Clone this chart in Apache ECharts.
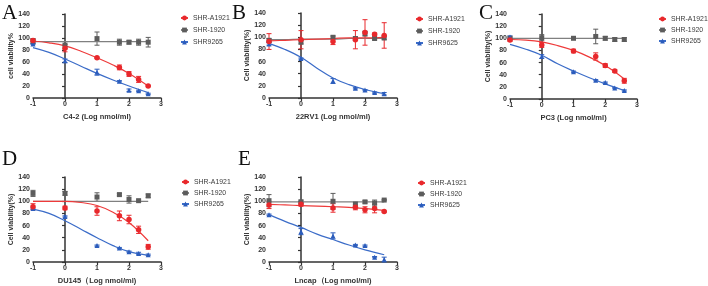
<!DOCTYPE html>
<html>
<head>
<meta charset="utf-8">
<script src="https://cdn.jsdelivr.net/npm/echarts@6/dist/echarts.min.js"></script>
<style>
html,body{margin:0;padding:0;background:#fff;}
#main{width:708px;height:286px;}
</style>
</head>
<body>
<div id="main"></div>
<script>
// doses (log nmol/ml) of the measured points and of the read fitted curve
var doses = [-1, 0, 1, 1.7, 2, 2.3, 2.6];
var fitX = [-1, -0.5, 0, 0.5, 1, 1.5, 2, 2.6];
var xTicks = [-1, 0, 1, 2, 3];
var yTicks = [0, 20, 40, 60, 80, 100, 120, 140];

// A  C4-2
var aRed = [96, 83, 67, 51, 40, 31, 20];
var aRedErr = [2, 6, 1, 4, 4, 5, 1];
var aRedFit = [95, 92, 87, 78, 67, 55, 41, 20];
var aGray = [95, 88, 99, 93, 93, 93, 93];
var aGrayErr = [4, 6, 11, 5, 3, 5, 8];
var aGrayFit = [94, 94, 94, 94, 94, 94, 94, 94];
var aBlue = [90, 62, 43, 28, 13, 12, 7];
var aBlueErr = [1, 3, 5, 1, 2, 1, 1];
var aBlueFit = [84, 76, 65, 53, 41, 30, 20, 9];

// B  22RV1
var bRed = [93, 96, 93, 96, 108, 105, 103];
var bRedErr = [13, 15, 5, 15, 21, 2, 21];
var bRedFit = [94, 95, 96, 97, 98, 99, 99, 100];
var bGray = [95, 92, 100, 98, 106, 98, 99];
var bGrayErr = [3, 3, 2, 3, 4, 2, 3];
var bGrayFit = [96, 96, 97, 97, 97, 98, 98, 98];
var bBlue = [89, 65, 28, 16, 13, 9, 7];
var bBlueErr = [2, 1, 4, 1, 1, 1, 2];
var bBlueFit = [90, 80, 67, 49, 33, 22, 14, 7];

// C  PC3
var cRed = [97, 89, 79, 70, 55, 46, 30];
var cRedErr = [2, 4, 3, 6, 3, 2, 4];
var cRedFit = [98, 97, 94, 88, 80, 69, 55, 33];
var cGray = [100, 101, 100, 103, 100, 98, 98];
var cGrayErr = [2, 5, 2, 12, 3, 3, 3];
var cGrayFit = [100, 100, 100, 100, 100, 100, 100, 100];
var cBlue = [102, 70, 45, 31, 27, 18, 14];
var cBlueErr = [2, 3, 1, 1, 1, 1, 1];
var cBlueFit = [90, 82, 72, 58, 46, 35, 25, 14];

// D  DU145
var dRed = [91, 89, 84, 76, 70, 53, 25];
var dRedErr = [5, 3, 7, 8, 7, 6, 4];
var dRedFit = [100, 100, 100, 98, 93, 82, 65, 35];
var dGray = [113, 113, 107, 111, 103, 101, 109];
var dGrayErr = [5, 3, 7, 2, 6, 1, 3];
var dGrayFit = [100, 100, 100, 100, 100, 100, 100, 100];
var dBlue = [88, 75, 27, 23, 17, 14, 12];
var dBlueErr = [1, 1, 1, 1, 1, 2, 1];
var dBlueFit = [87, 80, 68, 54, 40, 27, 17, 11];

// E  Lncap
var eRed = [94, 95, 89, 90, 86, 88, 83];
var eRedErr = [6, 3, 7, 4, 5, 7, 1];
var eRedFit = [95, 94, 93, 92, 91, 90, 88, 85];
var eGray = [101, 99, 100, 95, 99, 97, 102];
var eGrayErr = [10, 3, 13, 4, 2, 5, 1];
var eGrayFit = [99, 99, 99, 99, 99, 99, 99, 99];
var eBlue = [78, 50, 43, 28, 27, 8, 4];
var eBlueErr = [1, 5, 5, 1, 1, 1, 4];
var eBlueFit = [78, 67, 57, 46, 37, 28, 20, 12];

var RED = '#e8282c', GRAY = '#5c5c5c', BLUE = '#2b5cbc';
var LRED = '#ee3a3a', LGRAY = '#808080', LBLUE = '#3b6cc8';

var panels = [
	{ letter:'A', lx:2, ly:3, grid:{left:33, top:14, width:128, height:84},
	  xName:'C4-2 (Log nmol/ml)', yName:'cell viability%',
	  names:['SHR-A1921', 'SHR-1920', 'SHR9265'], leg:{left:180, top:14, gap:4},
	  red:[aRed, aRedErr, aRedFit], gray:[aGray, aGrayErr, aGrayFit], blue:[aBlue, aBlueErr, aBlueFit] },
	{ letter:'B', lx:232, ly:3, grid:{left:269, top:13, width:128, height:85},
	  xName:'22RV1 (Log nmol/ml)', yName:'Cell viability(%)',
	  names:['SHR-A1921', 'SHR-1920', 'SHR9625'], leg:{left:415, top:15, gap:4},
	  red:[bRed, bRedErr, bRedFit], gray:[bGray, bGrayErr, bGrayFit], blue:[bBlue, bBlueErr, bBlueFit] },
	{ letter:'C', lx:479, ly:3, grid:{left:510, top:14, width:127, height:85},
	  xName:'PC3 (Log nmol/ml)', yName:'Cell viability(%)',
	  names:['SHR-A1921', 'SHR-1920', 'SHR9265'], leg:{left:658, top:15, gap:3},
	  red:[cRed, cRedErr, cRedFit], gray:[cGray, cGrayErr, cGrayFit], blue:[cBlue, cBlueErr, cBlueFit] },
	{ letter:'D', lx:2, ly:149, grid:{left:33, top:177, width:128, height:85},
	  xName:'DU145（Log nmol/ml)', yName:'Cell viability(%)',
	  names:['SHR-A1921', 'SHR-1920', 'SHR9265'], leg:{left:181, top:178, gap:3},
	  red:[dRed, dRedErr, dRedFit], gray:[dGray, dGrayErr, dGrayFit], blue:[dBlue, dBlueErr, dBlueFit] },
	{ letter:'E', lx:238, ly:149, grid:{left:269, top:177, width:128, height:85},
	  xName:'Lncap（Log nmol/ml)', yName:'Cell viability(%)',
	  names:['SHR-A1921', 'SHR-1920', 'SHR9625'], leg:{left:417, top:179, gap:3},
	  red:[eRed, eRedErr, eRedFit], gray:[eGray, eGrayErr, eGrayFit], blue:[eBlue, eBlueErr, eBlueFit] }
];

var myChart = echarts.init(document.getElementById('main'));

var labelStyle = { fontSize:7, fontWeight:'bold', color:'#333', fontFamily:'Liberation Sans' };
var axisLine = { show:true, lineStyle:{ color:'#333', width:1.5 } };

var option = {
	animation:false,
	backgroundColor:'#fff',
	title:[], grid:[], xAxis:[], yAxis:[], legend:[], series:[]
};

function errBars(idx, vals, errs, color) {
	var rows = [];
	for (var i = 0; i < doses.length; i++) {
		rows.push([doses[i], vals[i] - errs[i], vals[i] + errs[i]]);
	}
	return {
		type:'custom', xAxisIndex:idx, yAxisIndex:idx, z:2, silent:true,
		data:rows,
		renderItem:function(params, api) {
			var top = api.coord([api.value(0), api.value(2)]);
			var bot = api.coord([api.value(0), api.value(1)]);
			var w = 2.5;
			var st = { stroke:color, lineWidth:1 };
			return { type:'group', children:[
				{ type:'line', shape:{ x1:top[0], y1:top[1], x2:bot[0], y2:bot[1] }, style:st },
				{ type:'line', shape:{ x1:top[0]-w, y1:top[1], x2:top[0]+w, y2:top[1] }, style:st },
				{ type:'line', shape:{ x1:bot[0]-w, y1:bot[1], x2:bot[0]+w, y2:bot[1] }, style:st }
			]};
		}
	};
}

function pairs(xs, ys) {
	var out = [];
	for (var i = 0; i < xs.length; i++) out.push([xs[i], ys[i]]);
	return out;
}

panels.forEach(function(p, idx) {
	option.title.push({ text:p.letter, left:p.lx, top:p.ly, padding:0,
		textStyle:{ fontFamily:'Liberation Serif', fontSize:21, fontWeight:'normal', color:'#111' } });
	option.grid.push(p.grid);
	option.xAxis.push({
		gridIndex:idx, type:'value', min:-1, max:3, interval:1,
		name:p.xName, nameLocation:'middle', nameGap:15,
		nameTextStyle:{ fontSize:7.5, fontWeight:'bold', color:'#333', fontFamily:'Liberation Sans' },
		axisLine:axisLine, axisTick:{ show:true, length:3, lineStyle:{ color:'#333', width:1.2 } },
		axisLabel:Object.assign({ margin:3 }, labelStyle), splitLine:{ show:false }
	});
	option.yAxis.push({
		gridIndex:idx, type:'value', min:0, max:140, interval:20,
		name:p.yName, nameLocation:'middle', nameGap:18, nameRotate:90,
		nameTextStyle:{ fontSize:7, fontWeight:'bold', color:'#333', fontFamily:'Liberation Sans' },
		axisLine:axisLine, axisTick:{ show:true, length:3, lineStyle:{ color:'#333', width:1.2 } },
		axisLabel:Object.assign({ margin:3 }, labelStyle), splitLine:{ show:false }
	});
	option.legend.push({
		orient:'vertical', left:p.leg.left, top:p.leg.top, itemGap:p.leg.gap,
		itemWidth:7, itemHeight:6, padding:0,
		textStyle:{ fontSize:6.9, color:'#3a3a3a', fontFamily:'Liberation Sans', lineHeight:8 },
		data:p.names.slice()
	});
	var sets = [
		{ d:p.gray, c:GRAY, lc:LGRAY, sym:'rect', sz:5, name:p.names[1] },
		{ d:p.blue, c:BLUE, lc:LBLUE, sym:'triangle', sz:5, name:p.names[2] },
		{ d:p.red, c:RED, lc:LRED, sym:'circle', sz:5.5, name:p.names[0] }
	];
	sets.forEach(function(s, k) {
		option.series.push(errBars(idx, s.d[0], s.d[1], s.c));
		option.series.push({
			name:s.name, type:'line', xAxisIndex:idx, yAxisIndex:idx, z:3 + k,
			smooth:0.4, showSymbol:false, symbol:s.sym, symbolSize:s.sz,
			itemStyle:{ color:s.c }, lineStyle:{ color:s.lc, width:1.2 },
			data:pairs(fitX, s.d[2])
		});
		option.series.push({
			name:s.name + ' pts', type:'scatter', xAxisIndex:idx, yAxisIndex:idx, z:6 + k,
			symbol:s.sym, symbolSize:s.sz, itemStyle:{ color:s.c, opacity:1 },
			data:pairs(doses, s.d[0])
		});
	});
});

myChart.setOption(option);
</script>
</body>
</html>
